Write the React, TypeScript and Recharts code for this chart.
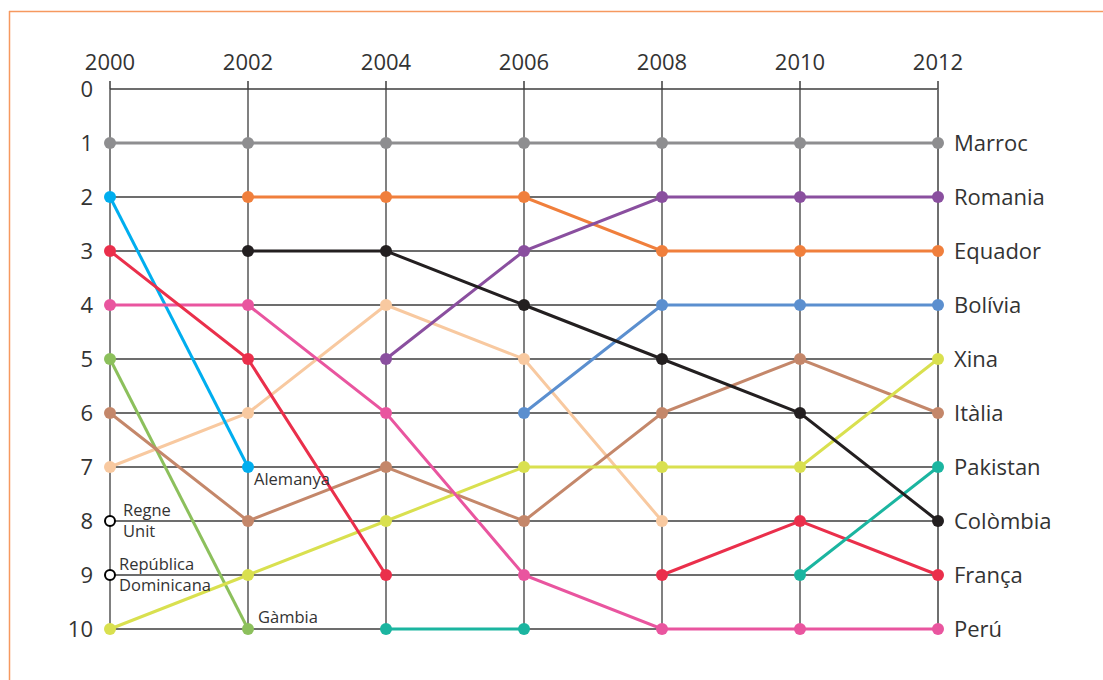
import { LineChart, Line, XAxis, YAxis, CartesianGrid, ReferenceLine } from "recharts";

const years = [2000, 2002, 2004, 2006, 2008, 2010, 2012];
const rankTicks = [0, 1, 2, 3, 4, 5, 6, 7, 8, 9, 10];

// rank 1..10 -> name shown on the right (2012 order)
const rightNames = ["", "Marroc", "Romania", "Equador", "Bolívia", "Xina", "Itàlia", "Pakistan", "Colòmbia", "França", "Perú"];

const marroc = [1, 1, 1, 1, 1, 1, 1];
const romania = [null, null, 5, 3, 2, 2, 2];
const equador = [null, 2, 2, 2, 3, 3, 3];
const bolivia = [null, null, null, 6, 4, 4, 4];
const xina = [10, 9, 8, 7, 7, 7, 5];
const italia = [6, 8, 7, 8, 6, 5, 6];
const pakistan = [null, null, 10, 10, null, 9, 7];
const colombia = [null, 3, 3, 4, 5, 6, 8];
const franca = [3, 5, 9, null, 9, 8, 9];
const peru = [4, 4, 6, 9, 10, 10, 10];
const alemanya = [2, 7, null, null, null, null, null];
const gambia = [5, 10, null, null, null, null, null];
const altres = [7, 6, 4, 5, 8, null, null];
const regneUnit = [8, null, null, null, null, null, null];
const repDominicana = [9, null, null, null, null, null, null];

const data = years.map((year, i) => ({
  year,
  marroc: marroc[i],
  romania: romania[i],
  equador: equador[i],
  bolivia: bolivia[i],
  xina: xina[i],
  italia: italia[i],
  pakistan: pakistan[i],
  colombia: colombia[i],
  franca: franca[i],
  peru: peru[i],
  alemanya: alemanya[i],
  gambia: gambia[i],
  altres: altres[i],
  regneUnit: regneUnit[i],
  repDominicana: repDominicana[i],
}));

const series = [
  { key: "altres", color: "#f8c9a0" },
  { key: "gambia", color: "#8cc05c" },
  { key: "alemanya", color: "#00aeef" },
  { key: "marroc", color: "#8e8e90" },
  { key: "equador", color: "#f07f3c" },
  { key: "romania", color: "#8a4f9f" },
  { key: "bolivia", color: "#5b8fcf" },
  { key: "italia", color: "#c4876a" },
  { key: "xina", color: "#d9e04f" },
  { key: "peru", color: "#e9559f" },
  { key: "franca", color: "#ea2f4b" },
  { key: "pakistan", color: "#1bb5a0" },
  { key: "colombia", color: "#231f20" },
];

const FONT = "'Open Sans', sans-serif";
const TEXT = "#333333";

const smallLabel = (lines: string[], at: number, dx: number, dy: number) => (p: any) => {
  if (p.index !== at || p.x == null || p.y == null) return <g />;
  return (
    <text x={p.x + dx} y={p.y + dy} fontSize={16.5} fill={TEXT} fontFamily={FONT}>
      {lines.map((l, i) => (
        <tspan key={i} x={p.x + dx} dy={i === 0 ? 0 : 21}>
          {l}
        </tspan>
      ))}
    </text>
  );
};

const labels: Record<string, any> = {
  alemanya: smallLabel(["Alemanya"], 1, 6, 18),
  gambia: smallLabel(["Gàmbia"], 1, 10, -6),
};

export default function App() {
  return (
    <div style={{ position: "absolute", left: 0, top: 0, width: 1103, height: 680, background: "#fff" }}>
      <svg width={1103} height={680} style={{ position: "absolute", left: 0, top: 0 }}>
        <line x1={9} y1={11.5} x2={1103} y2={11.5} stroke="#f6995f" strokeWidth={1.5} />
        <line x1={9.5} y1={11} x2={9.5} y2={680} stroke="#f6995f" strokeWidth={1.5} />
      </svg>
      <LineChart
        width={1103}
        height={680}
        data={data}
        margin={{ top: 49, right: 0, bottom: 51, left: 50 }}
        style={{ position: "absolute", left: 0, top: 0 }}
      >
        <CartesianGrid yAxisId="l" stroke="#3c3c3c" strokeWidth={1.3} />
        <XAxis
          dataKey="year"
          type="number"
          orientation="top"
          domain={[2000, 2012]}
          ticks={years}
          height={40}
          axisLine={false}
          tickSize={8}
          tickMargin={11}
          tickLine={{ stroke: "#3c3c3c", strokeWidth: 1.5 }}
          tick={{ fontSize: 22, fill: TEXT, fontFamily: FONT }}
        />
        <YAxis
          yAxisId="l"
          type="number"
          domain={[0, 10]}
          reversed
          ticks={rankTicks}
          width={60}
          axisLine={false}
          tickLine={false}
          tickSize={0}
          tickMargin={17}
          tick={{ fontSize: 22, fill: TEXT, fontFamily: FONT }}
        />
        <YAxis
          yAxisId="r"
          orientation="right"
          type="number"
          domain={[0, 10]}
          reversed
          ticks={rankTicks.slice(1)}
          tickFormatter={(v: number) => rightNames[v]}
          width={165}
          axisLine={false}
          tickLine={false}
          tickSize={0}
          tickMargin={16}
          tick={{ fontSize: 22, fill: TEXT, fontFamily: FONT, textAnchor: "start" }}
        />
        <ReferenceLine yAxisId="l" x={2012} stroke="#6f6f6f" strokeWidth={2} />
        {/* invisible series so the right-hand axis is drawn */}
        <Line
          yAxisId="r"
          dataKey="marroc"
          stroke="none"
          dot={false}
          activeDot={false}
          legendType="none"
          isAnimationActive={false}
        />
        {series.map((s) => (
          <Line
            key={s.key}
            yAxisId="l"
            dataKey={s.key}
            type="linear"
            stroke={s.color}
            strokeWidth={3}
            dot={{ r: 6, fill: s.color, stroke: s.color, strokeWidth: 0 }}
            activeDot={false}
            label={labels[s.key]}
            isAnimationActive={false}
          />
        ))}
        <Line
          yAxisId="l"
          dataKey="regneUnit"
          stroke="#000"
          dot={{ r: 5, fill: "#fff", stroke: "#000", strokeWidth: 2 }}
          activeDot={false}
          label={smallLabel(["Regne", "Unit"], 0, 13, -5)}
          isAnimationActive={false}
        />
        <Line
          yAxisId="l"
          dataKey="repDominicana"
          stroke="#000"
          dot={{ r: 5, fill: "#fff", stroke: "#000", strokeWidth: 2 }}
          activeDot={false}
          label={smallLabel(["República", "Dominicana"], 0, 9, -5)}
          isAnimationActive={false}
        />
      </LineChart>
    </div>
  );
}
